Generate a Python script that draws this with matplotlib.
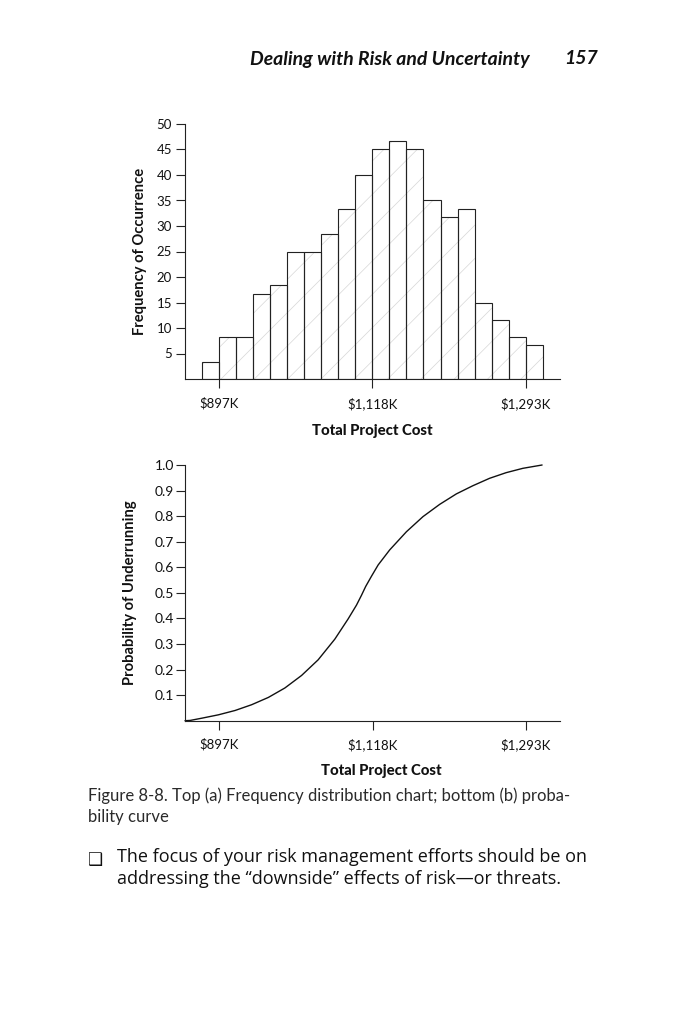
import matplotlib
matplotlib.use('Agg')
import matplotlib.pyplot as plt
import numpy as np

# ---------------- data ----------------
frequencies = [3.3, 8.3, 8.3, 16.7, 18.4, 25.0, 25.0, 28.4, 33.4, 40.0,
               45.0, 46.7, 45.0, 35.0, 31.7, 33.4, 15.0, 11.6, 8.3, 6.7]
freq_yticks = [5, 10, 15, 20, 25, 30, 35, 40, 45, 50]
cost_tick_positions = [1, 10, 19]          # in bin units
cost_tick_labels = [r'\$897K', r'\$1,118K', r'\$1,293K']

curve_position = [-1.0, -0.7, 0.0, 0.96, 1.94, 2.91, 3.89, 4.86, 5.84, 6.81,
                  7.79, 8.57, 9.06, 9.35, 9.6, 9.94, 10.33, 11.01, 11.99,
                  12.96, 13.94, 14.92, 15.89, 16.87, 17.84, 18.82, 19.95]
curve_probability = [0.0, 0.001, 0.01, 0.023, 0.040, 0.0625, 0.091, 0.128,
                     0.177, 0.238, 0.319, 0.398, 0.452, 0.49, 0.525, 0.565,
                     0.609, 0.668, 0.739, 0.798, 0.846, 0.887, 0.919, 0.948,
                     0.970, 0.987, 1.0]
prob_yticks = [0.1, 0.2, 0.3, 0.4, 0.5, 0.6, 0.7, 0.8, 0.9, 1.0]

header_title = 'Dealing with Risk and Uncertainty'
page_number = '157'
caption_lines = ['Figure 8-8. Top (a) Frequency distribution chart; bottom (b) proba-',
                 'bility curve']
bullet_lines = ['The focus of your risk management efforts should be on',
                'addressing the \u201cdownside\u201d effects of risk\u2014or threats.']

# ---------------- style ----------------
plt.rcParams['font.family'] = ['Lato', 'DejaVu Sans']
plt.rcParams['hatch.linewidth'] = 0.5
INK = '#222222'

W, H = 682, 1024
fig = plt.figure(figsize=(W / 100, H / 100), dpi=100)
fig.patch.set_facecolor('white')


def fx(x):
    return x / W


def fy(y):
    return 1 - y / H


def axes_px(left, top, right, bottom):
    return fig.add_axes([fx(left), fy(bottom), (right - left) / W, (bottom - top) / H])


def style_axes(ax):
    for s in ['top', 'right']:
        ax.spines[s].set_visible(False)
    for s in ['left', 'bottom']:
        ax.spines[s].set_color(INK)
        ax.spines[s].set_linewidth(0.8)
    ax.tick_params(direction='out', length=6.3, width=0.8, color=INK, labelcolor='#111111')
    ax.set_facecolor('none')


# ---------------- top chart ----------------
ax1 = axes_px(184.5, 124, 560, 379)
style_axes(ax1)
x = np.arange(len(frequencies))
ax1.bar(x, frequencies, width=1.0, align='edge', color='white', hatch='/',
        linewidth=0, edgecolor='#d6d6d6', zorder=1)
ax1.bar(x, frequencies, width=1.0, align='edge', fill=False,
        linewidth=0.8, edgecolor=INK, zorder=2)
ax1.set_xlim(-1, 21)
ax1.set_ylim(0, 50)
ax1.set_yticks(freq_yticks)
ax1.set_yticklabels([str(v) for v in freq_yticks], fontsize=9.5)
ax1.set_xticks(cost_tick_positions)
ax1.set_xticklabels(cost_tick_labels, fontsize=9.5)
ax1.tick_params(axis='y', pad=2.8)
ax1.tick_params(axis='x', pad=7.0)

# ---------------- bottom chart ----------------
ax2 = axes_px(185, 465, 560, 720.7)
style_axes(ax2)
ax2.plot(curve_position, curve_probability, color='#111111', linewidth=1.0,
         solid_capstyle='round', solid_joinstyle='round', clip_on=False)
ax2.set_xlim(-1, 21)
ax2.set_ylim(0, 1.0)
ax2.set_yticks(prob_yticks)
ax2.set_yticklabels(['%.1f' % v for v in prob_yticks], fontsize=10)
ax2.set_xticks(cost_tick_positions)
ax2.set_xticklabels(cost_tick_labels, fontsize=9.5)
ax2.tick_params(axis='y', pad=1.5)
ax2.tick_params(axis='x', pad=6.5)

# ---------------- texts ----------------
renderer = fig.canvas.get_renderer()


def fit(t, target, dim='w'):
    for _ in range(3):
        bb = t.get_window_extent(renderer)
        cur = bb.width if dim == 'w' else bb.height
        if cur > 0:
            t.set_fontsize(t.get_fontsize() * target / cur)
    return t


# axis labels
t = fig.text(fx(372.7), fy(430.5), 'Total Project Cost', ha='center', va='center',
             fontsize=8.5, fontweight='black', color='#111111')
fit(t, 120)
t = fig.text(fx(381.7), fy(771.5), 'Total Project Cost', ha='center', va='center',
             fontsize=8.5, fontweight='black', color='#111111')
fit(t, 120)
t = fig.text(fx(140), fy(251.5), 'Frequency of Occurrence', ha='center', va='center',
             rotation=90, fontsize=8.5, fontweight='bold', color='#111111')
fit(t, 167, 'h')
t = fig.text(fx(130), fy(592.5), 'Probability of Underrunning', ha='center', va='center',
             rotation=90, fontsize=9, fontweight='bold', color='#111111')
fit(t, 185, 'h')

# header
th = fig.text(fx(250), fy(64.5), header_title, ha='left', va='baseline',
              fontsize=11, fontweight='bold', fontstyle='italic', color='#111111')
fit(th, 280)
tp = fig.text(fx(598), fy(64.5), page_number, ha='right', va='baseline',
              fontsize=th.get_fontsize(), fontweight='bold', fontstyle='italic',
              color='#111111')

# caption
c1 = fig.text(fx(88), fy(801.5), caption_lines[0], ha='left', va='baseline',
              fontsize=10, fontweight='normal', color='#2a2a2a')
fit(c1, 485)
c2 = fig.text(fx(88), fy(822), caption_lines[1], ha='left', va='baseline',
              fontsize=c1.get_fontsize(), fontweight='normal', color='#2a2a2a')

# bullet
bx = fig.text(fx(88), fy(864.5), '\u2751', ha='left', va='baseline',
              family=['DejaVu Sans'], fontsize=11, color='#111111')
fit(bx, 15)
b1 = fig.text(fx(117), fy(861.5), bullet_lines[0], ha='left', va='baseline',
              family=['Open Sans', 'DejaVu Sans'], fontsize=11, color='#111111')
fit(b1, 472)
b2 = fig.text(fx(117), fy(884), bullet_lines[1], ha='left', va='baseline',
              family=['Open Sans', 'DejaVu Sans'], fontsize=b1.get_fontsize(),
              color='#111111')

fig.savefig('out.png', dpi=100, facecolor='white')
